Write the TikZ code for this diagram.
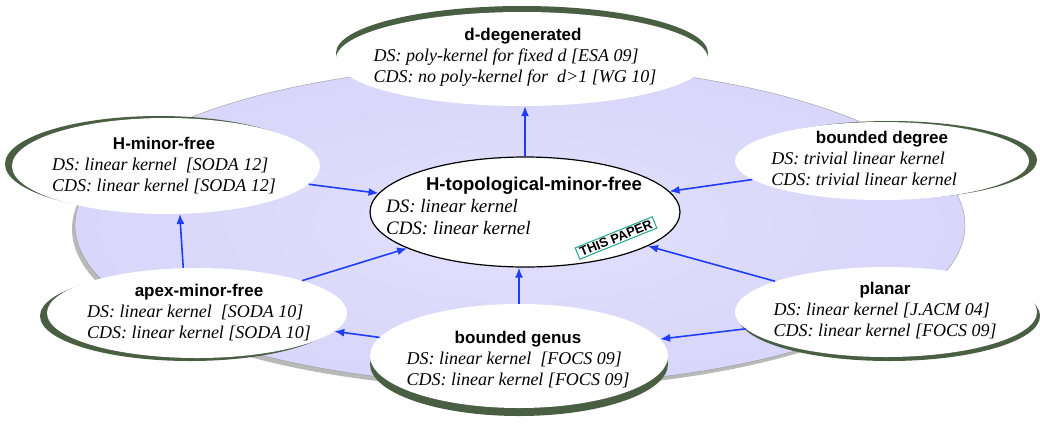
\documentclass[tikz,border=0pt]{standalone}
\usepackage{fontspec}
\setmainfont{Liberation Serif}
\setsansfont{Liberation Sans}
\usetikzlibrary{shapes.geometric,shadows,arrows.meta}

\definecolor{lavender}{HTML}{D8D6FA}
\definecolor{shgreen}{HTML}{4A5E44}
\definecolor{linkblue}{HTML}{1F3DFB}
\definecolor{stampteal}{HTML}{1FA58C}

\newcommand{\ktsz}{17}
\newcommand{\ktitle}[1]{{\upshape\sffamily\bfseries\fontsize{\ktsz}{20}\selectfont #1}}
\newcommand{\kbox}[4][0pt]{\begin{tabular}{@{}l@{}}\multicolumn{1}{@{}c@{}}{\hspace*{#1}\ktitle{#2}}\\ #3\\ #4\end{tabular}}

\begin{document}
\begin{tikzpicture}[x=1pt,y=-1pt,
	kernel/.style={ellipse, fill=white, inner sep=0pt},
	kshadow/.style 2 args={general shadow={fill=shgreen, shadow xshift=#1, shadow yshift=#2}},
	ktext/.style={font=\itshape\fontsize{18}{21}\selectfont, inner sep=0pt},
	link/.style={draw=linkblue, line width=1.6pt, -{Latex[length=10pt,width=8pt]}},
	stamp/.style={draw=stampteal, line width=1pt, fill=white, font=\sffamily\bfseries\fontsize{13}{15}\selectfont, inner xsep=3pt, inner ysep=1.5pt}]
	\useasboundingbox (0,0) rectangle (1040,429);
	% background
	\shade[inner color=lavender!75!white, outer color=lavender, draw=black!40, line width=0.4pt,
		drop shadow={shadow xshift=-3pt, shadow yshift=-4pt, fill=black!55, opacity=0.5}]
		(520,225) ellipse [x radius=445pt, y radius=160pt];
	% classes
	\node[kernel, kshadow={0pt}{6pt}, minimum width=372pt, minimum height=94pt] (ddeg) at (522,59) {};
	\node[ktext] (ddeg-t) at (515,57) {\kbox[16pt]{d-degenerated}{DS: poly-kernel for fixed d [ESA 09]}{CDS: no poly-kernel for\ \ d>1 [WG 10]}};
	\node[kernel, kshadow={-7pt}{2pt}, minimum width=308pt, minimum height=96pt] (hmf) at (166,166) {};
	\node[ktext] (hmf-t) at (164,166) {\kbox{H-minor-free}{DS: linear kernel\ \ [SODA 12]}{CDS: linear kernel [SODA 12]}};
	\node[kernel, kshadow={8pt}{1pt}, minimum width=294pt, minimum height=78pt] (bdeg) at (882,161) {};
	\node[ktext] (bdeg-t) at (864,160) {\kbox[36pt]{bounded degree}{DS: trivial linear kernel}{CDS: trivial linear kernel}};
	\node[kernel, draw=black, line width=1.2pt, minimum width=310pt, minimum height=110pt] (ctr) at (525,212) {};
	\node[ktext, font=\itshape\fontsize{19}{22}\selectfont] (ctr-t) at (514,208) {\renewcommand{\ktsz}{18.5}\kbox[40pt]{H-topological-minor-free}{DS: linear kernel}{CDS: linear kernel}};
	\node[kernel, kshadow={-7pt}{-3pt}, minimum width=300pt, minimum height=90pt] (apex) at (197,313) {};
	\node[ktext] (apex-t) at (199,313) {\kbox{apex-minor-free}{DS: linear kernel\ \ [SODA 10]}{CDS: linear kernel [SODA 10]}};
	\node[kernel, kshadow={0pt}{-8pt}, minimum width=298pt, minimum height=104pt] (bgen) at (519,356) {};
	\node[ktext] (bgen-t) at (518,360) {\kbox{bounded genus}{DS: linear kernel\ \ [FOCS 09]}{CDS: linear kernel [FOCS 09]}};
	\node[kernel, kshadow={3pt}{-4pt}, minimum width=302pt, minimum height=90pt] (planar) at (886,312) {};
	\node[ktext] (planar-t) at (885,311) {\kbox{planar}{DS: linear kernel [J.ACM 04]}{CDS: linear kernel [FOCS 09]}};
	\node[stamp, rotate=22] (paper) at (616,238) {THIS PAPER};
	% arrows
	\draw[link] (ctr.north) -- (ctr.north |- ddeg.south);
	\draw[link] (hmf) -- (ctr);
	\draw[link] (bdeg) -- (ctr);
	\draw[link] (apex.107) -- (hmf.-74);
	\draw[link] (apex) -- (ctr);
	\draw[link] (bgen.north) -- (bgen.north |- ctr.south);
	\draw[link] (bgen) -- (apex);
	\draw[link] (planar) -- (ctr);
	\draw[link] (planar) -- (bgen);
\end{tikzpicture}
\end{document}
